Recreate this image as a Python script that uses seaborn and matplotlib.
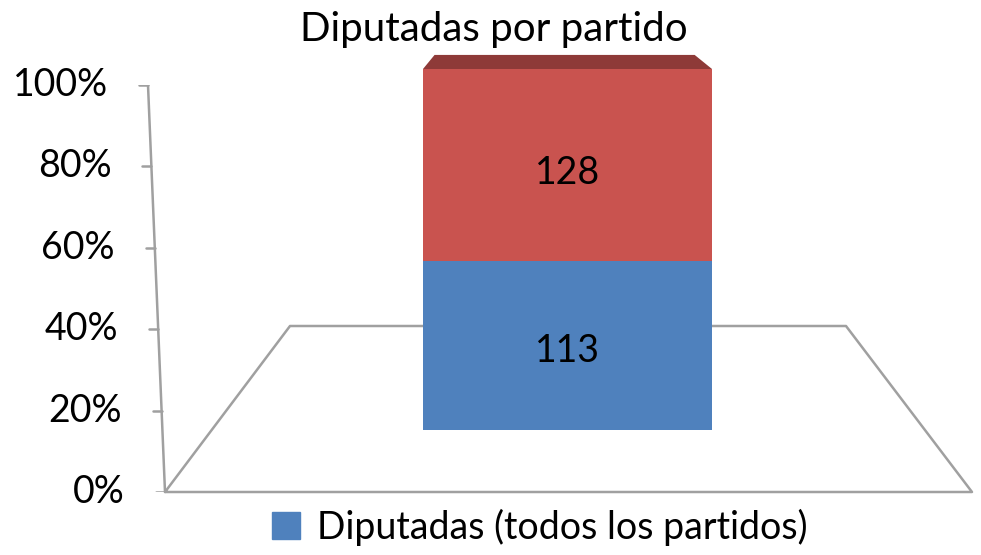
import numpy as np
import pandas as pd
import matplotlib
matplotlib.use('Agg')
import matplotlib.pyplot as plt
import seaborn as sn
from matplotlib.patches import Patch, Polygon

# data
series = ['Diputados', 'Diputadas (todos los partidos)']
counts = [128, 113]
colors = ['#c9534f', '#4f81bd']
top_color = '#8e3a38'
ticks = [0, 20, 40, 60, 80, 100]
title = 'Diputadas por partido'

sn.set_style('white')
plt.rcParams['font.family'] = ['Lato', 'DejaVu Sans']
plt.rcParams['text.color'] = 'black'

total = sum(counts)
pct_blue = counts[1] / total * 100

fig = plt.figure(figsize=(9.81, 5.55), dpi=100)
W, H = 981, 555
fs = 27

# frame of the 3d floor (pixel coords)
frame = fig.add_axes([0, 0, 1, 1])
frame.set_xlim(0, W)
frame.set_ylim(H, 0)
frame.axis('off')
grey = '#a0a0a0'
floor = [(165, 492), (290, 326), (846, 326), (972, 492), (165, 492)]
frame.plot([p[0] for p in floor], [p[1] for p in floor], color=grey, lw=1.8)

# value scale axes (0-100%)
sc = fig.add_axes([0, 1 - 492 / H, 1, (492 - 85) / H])
sc.set_xlim(0, W)
sc.set_ylim(0, 100)
sc.axis('off')
slant = lambda v: 165 - v * 0.17
sc.plot([slant(0), slant(100)], [0, 100], color=grey, lw=1.8)
for v in ticks:
    x = slant(v)
    sc.plot([x - 9, x], [v, v], color=grey, lw=1.8)
    sc.text(x - 40, v, f'{v}%', ha='right', va='center', fontsize=fs)

# bar axes
bx = fig.add_axes([423 / W, 1 - 430 / H, (712 - 423) / W, (430 - 69) / H])
df = pd.DataFrame({'cat': ['Diputadas'], 'total': [100.0], 'blue': [pct_blue]})
sn.barplot(data=df, x='cat', y='total', color=colors[0], width=1, saturation=1,
           linewidth=0, ax=bx)
sn.barplot(data=df, x='cat', y='blue', color=colors[1], width=1, saturation=1,
           linewidth=0, ax=bx)
bx.set_xlim(-0.5, 0.5)
bx.set_ylim(0, 100)
bx.axis('off')
# top face of the 3d column
bx.add_patch(Polygon([(-0.5, 100), (-0.46, 103.9), (0.44, 103.9), (0.5, 100)],
                     closed=True, facecolor=top_color, edgecolor='none', clip_on=False))
bx.text(0, (pct_blue + 100) / 2 - 2.3, str(counts[0]), ha='center', va='center', fontsize=fs)
bx.text(0, pct_blue / 2 - 1.5, str(counts[1]), ha='center', va='center', fontsize=fs)

fig.text(494 / W, 1 - 29 / H, title, ha='center', va='center', fontsize=29)

handles = [Patch(color=colors[1], label=series[1])]
fig.legend(handles=handles, loc='center', bbox_to_anchor=(540 / W, 1 - 527 / H),
           frameon=False, fontsize=fs, handlelength=0.75, handleheight=0.75,
           handletextpad=0.45)

fig.savefig('out.png', dpi=100)
